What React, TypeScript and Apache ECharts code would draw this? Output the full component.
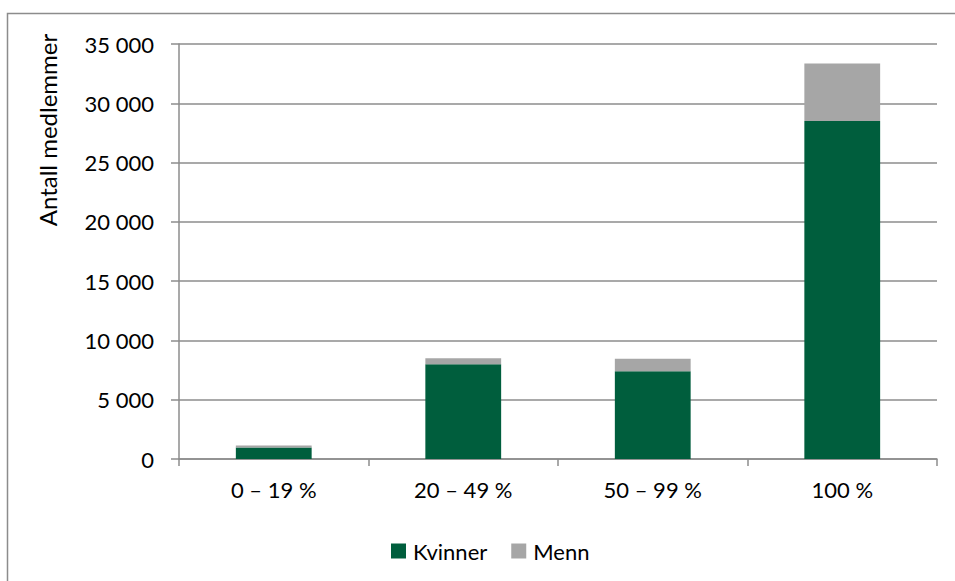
import React, { useEffect, useRef } from "react";
import * as echarts from "echarts";

const categories = ["0 – 19 %", "20 – 49 %", "50 – 99 %", "100 %"];
const kvinner = [980, 8000, 7400, 28500];
const menn = [150, 500, 1050, 4850];
const yTicks = [0, 5000, 10000, 15000, 20000, 25000, 30000, 35000];

const FONT = "Lato, 'Open Sans', 'Liberation Sans', sans-serif";

function fmt(v: number): string {
  return String(v).replace(/\B(?=(\d{3})+(?!\d))/g, " ");
}

export default function App() {
  const ref = useRef<HTMLDivElement>(null);
  useEffect(() => {
    if (!ref.current) return;
    const chart = echarts.init(ref.current, null, { renderer: "svg" });
    chart.setOption({
      animation: false,
      backgroundColor: "#ffffff",
      textStyle: { fontFamily: FONT },
      grid: { left: 179, right: 18, top: 44, bottom: 122, containLabel: false },
      legend: {
        top: 535,
        left: 386,
        itemWidth: 15,
        itemHeight: 15,
        itemGap: 24,
        icon: "rect",
        textStyle: { fontSize: 22, color: "#000", fontFamily: FONT, padding: [0, 0, 0, 2] },
        data: ["Kvinner", "Menn"],
      },
      xAxis: {
        type: "category",
        data: categories,
        axisLine: { show: true, lineStyle: { color: "#8c8c8c", width: 1.5 } },
        axisTick: { show: true, length: 7, inside: false, lineStyle: { color: "#8c8c8c", width: 1.5 } },
        axisLabel: { fontSize: 22, color: "#000", margin: 19, fontFamily: FONT },
      },
      yAxis: {
        type: "value",
        min: yTicks[0],
        max: yTicks[yTicks.length - 1],
        interval: 5000,
        axisLine: { show: true, lineStyle: { color: "#8c8c8c", width: 1.5 } },
        axisTick: { show: true, length: 8, inside: false, lineStyle: { color: "#8c8c8c", width: 1.5 } },
        axisLabel: { fontSize: 22, color: "#000", margin: 25, fontFamily: FONT, formatter: (v: number) => fmt(v) },
        splitLine: { show: true, lineStyle: { color: "#8c8c8c", width: 1.5 } },
      },
      series: [
        {
          name: "Kvinner",
          type: "bar",
          stack: "total",
          data: kvinner,
          barWidth: "40%",
          itemStyle: { color: "#005E3D" },
        },
        {
          name: "Menn",
          type: "bar",
          stack: "total",
          data: menn,
          barWidth: "40%",
          itemStyle: { color: "#A6A6A6" },
        },
      ],
      graphic: [
        {
          type: "rect",
          shape: { x: 7.5, y: 13.5, width: 960, height: 600 },
          style: { fill: "none", stroke: "#8c8c8c", lineWidth: 1.5 },
          silent: true,
          z: -1,
        },
        {
          type: "text",
          x: 47,
          y: 130,
          rotation: Math.PI / 2,
          style: {
            text: "Antall medlemmer",
            fontSize: 24,
            fontFamily: FONT,
            fill: "#000",
            align: "center",
            verticalAlign: "middle",
          },
        },
      ],
    });
    return () => chart.dispose();
  }, []);
  return (
    <div
      ref={ref}
      style={{ position: "absolute", left: 0, top: 0, width: 955, height: 581 }}
    />
  );
}
